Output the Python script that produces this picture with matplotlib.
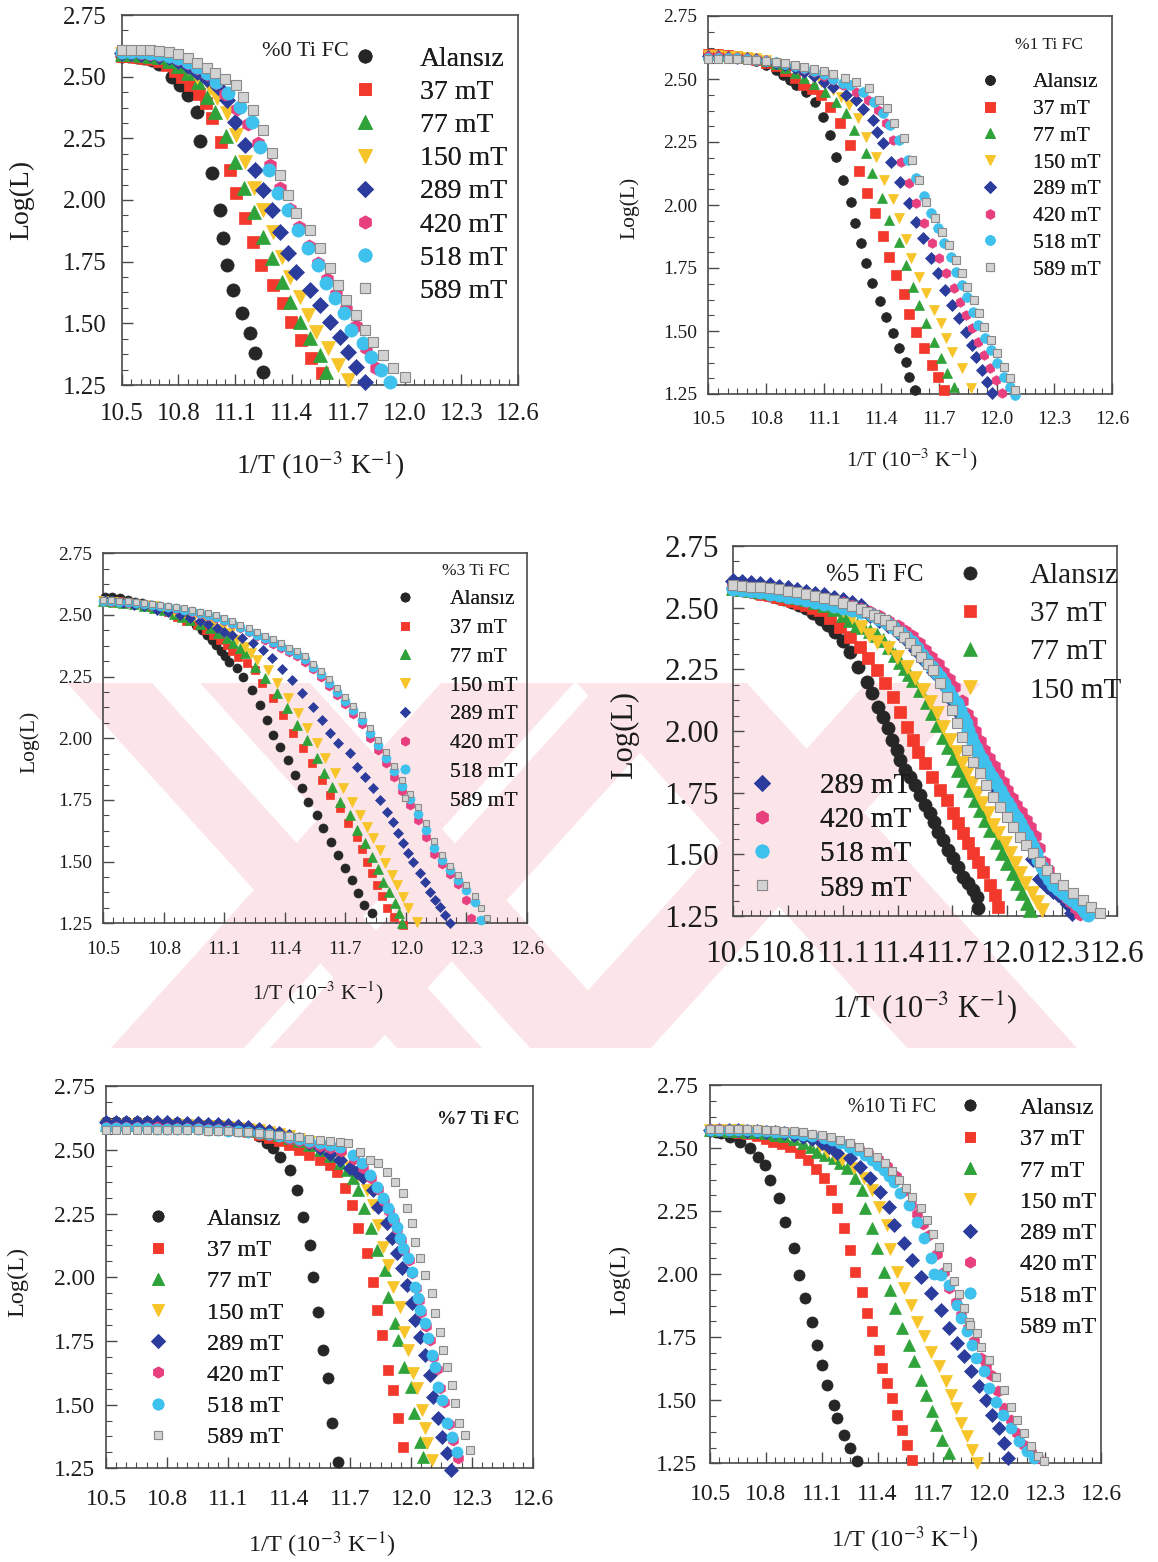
import matplotlib
matplotlib.use("Agg")
import matplotlib.pyplot as plt
from matplotlib.lines import Line2D
from matplotlib.patches import Polygon
from matplotlib.ticker import MultipleLocator, FormatStrFormatter

# ---------------------------------------------------------------------------
# Data: log(L) versus 1/T (10^-3 K^-1) for each Ti content and applied field
# ---------------------------------------------------------------------------
FIELDS = ["Alansız", "37 mT", "77 mT", "150 mT", "289 mT", "420 mT", "518 mT", "589 mT"]
PANEL_TITLES = ["%0 Ti FC", "%1 Ti FC", "%3 Ti FC", "%5 Ti FC", "%7 Ti FC", "%10 Ti FC"]
X_TICKS = [10.5, 10.8, 11.1, 11.4, 11.7, 12.0, 12.3, 12.6]
Y_TICKS = [1.25, 1.50, 1.75, 2.00, 2.25, 2.50, 2.75]

# %0 Ti
ti0_alansiz_x = [10.50, 10.54, 10.58, 10.62, 10.66, 10.70, 10.765, 10.81, 10.853, 10.897, 10.914, 10.976, 11.02, 11.038, 11.056, 11.09, 11.135, 11.18, 11.205, 11.25]
ti0_alansiz_y = [2.585, 2.585, 2.58, 2.575, 2.568, 2.55, 2.50, 2.466, 2.426, 2.358, 2.24, 2.108, 1.96, 1.845, 1.736, 1.635, 1.54, 1.46, 1.378, 1.304]
ti0_37_x = [10.50, 10.54, 10.58, 10.62, 10.66, 10.70, 10.74, 10.78, 10.82, 10.86, 10.91, 10.946, 10.981, 11.024, 11.073, 11.108, 11.152, 11.196, 11.24, 11.302, 11.355, 11.399, 11.452, 11.505, 11.563]
ti0_37_y = [2.582, 2.582, 2.58, 2.577, 2.572, 2.563, 2.548, 2.525, 2.497, 2.465, 2.43, 2.392, 2.331, 2.236, 2.122, 2.027, 1.926, 1.831, 1.736, 1.655, 1.581, 1.507, 1.432, 1.358, 1.297]
ti0_77_x = [10.50, 10.55, 10.60, 10.65, 10.70, 10.75, 10.80, 10.85, 10.906, 10.95, 10.994, 11.052, 11.10, 11.147, 11.20, 11.25, 11.294, 11.347, 11.39, 11.444, 11.496, 11.549, 11.585]
ti0_77_y = [2.59, 2.59, 2.588, 2.585, 2.578, 2.565, 2.545, 2.515, 2.48, 2.419, 2.358, 2.259, 2.155, 2.047, 1.953, 1.851, 1.764, 1.669, 1.588, 1.507, 1.439, 1.372, 1.304]
ti0_150_x = [10.50, 10.55, 10.60, 10.65, 10.70, 10.75, 10.80, 10.85, 10.90, 10.967, 11.003, 11.056, 11.105, 11.153, 11.20, 11.25, 11.302, 11.347, 11.39, 11.444, 11.488, 11.532, 11.593, 11.646, 11.699]
ti0_150_y = [2.592, 2.592, 2.59, 2.588, 2.585, 2.575, 2.56, 2.535, 2.50, 2.453, 2.412, 2.351, 2.264, 2.155, 2.047, 1.959, 1.872, 1.77, 1.689, 1.608, 1.534, 1.466, 1.399, 1.331, 1.27]
ti0_289_x = [10.50, 10.55, 10.60, 10.65, 10.70, 10.75, 10.80, 10.85, 10.90, 10.95, 11.011, 11.056, 11.10, 11.153, 11.205, 11.25, 11.294, 11.338, 11.382, 11.426, 11.496, 11.549, 11.602, 11.655, 11.699, 11.743, 11.787]
ti0_289_y = [2.595, 2.595, 2.593, 2.59, 2.585, 2.578, 2.565, 2.545, 2.52, 2.49, 2.459, 2.405, 2.318, 2.223, 2.122, 2.041, 1.959, 1.872, 1.784, 1.709, 1.635, 1.574, 1.507, 1.446, 1.385, 1.324, 1.264]
ti0_420_x = [10.50, 10.55, 10.60, 10.65, 10.70, 10.75, 10.80, 10.85, 10.90, 10.95, 11.00, 11.05, 11.11, 11.17, 11.223, 11.284, 11.338, 11.39, 11.44, 11.49, 11.54, 11.59, 11.638, 11.69, 11.743, 11.797, 11.85]
ti0_420_y = [2.598, 2.598, 2.596, 2.593, 2.588, 2.582, 2.572, 2.557, 2.537, 2.51, 2.475, 2.43, 2.37, 2.31, 2.23, 2.142, 2.047, 1.965, 1.89, 1.815, 1.745, 1.68, 1.62, 1.56, 1.49, 1.40, 1.32]
ti0_518_x = [10.50, 10.55, 10.60, 10.65, 10.70, 10.75, 10.80, 10.85, 10.90, 10.95, 11.00, 11.064, 11.126, 11.188, 11.232, 11.281, 11.329, 11.382, 11.435, 11.488, 11.541, 11.585, 11.629, 11.676, 11.717, 11.779, 11.823, 11.876, 11.92]
ti0_518_y = [2.60, 2.60, 2.598, 2.595, 2.59, 2.585, 2.575, 2.56, 2.54, 2.515, 2.48, 2.432, 2.378, 2.318, 2.216, 2.122, 2.027, 1.959, 1.878, 1.804, 1.736, 1.662, 1.601, 1.541, 1.473, 1.419, 1.365, 1.311, 1.264]
ti0_589_x = [10.50, 10.55, 10.60, 10.65, 10.70, 10.75, 10.80, 10.85, 10.90, 10.95, 10.994, 11.05, 11.108, 11.144, 11.197, 11.25, 11.294, 11.338, 11.382, 11.426, 11.496, 11.549, 11.602, 11.646, 11.69, 11.743, 11.787, 11.832, 11.884, 11.937, 11.999]
ti0_589_y = [2.61, 2.61, 2.61, 2.608, 2.605, 2.60, 2.59, 2.575, 2.555, 2.535, 2.514, 2.49, 2.466, 2.419, 2.365, 2.284, 2.189, 2.101, 2.02, 1.946, 1.878, 1.804, 1.723, 1.655, 1.595, 1.534, 1.473, 1.426, 1.372, 1.318, 1.284]

# %1 Ti
ti1_alansiz_x = [10.50, 10.55, 10.60, 10.65, 10.70, 10.75, 10.80, 10.85, 10.89, 10.923, 10.958, 11.01, 11.053, 11.096, 11.131, 11.165, 11.203, 11.243, 11.264, 11.295, 11.321, 11.352, 11.394, 11.425, 11.463, 11.494, 11.528, 11.546, 11.577]
ti1_alansiz_y = [2.60, 2.598, 2.595, 2.59, 2.58, 2.57, 2.555, 2.535, 2.515, 2.496, 2.476, 2.45, 2.41, 2.35, 2.278, 2.192, 2.099, 2.013, 1.927, 1.848, 1.769, 1.692, 1.62, 1.557, 1.491, 1.431, 1.378, 1.319, 1.266]
ti1_37_x = [10.50, 10.55, 10.60, 10.65, 10.70, 10.75, 10.80, 10.85, 10.90, 10.95, 10.993, 11.04, 11.088, 11.131, 11.183, 11.235, 11.283, 11.324, 11.369, 11.407, 11.442, 11.476, 11.52, 11.546, 11.58, 11.623, 11.663, 11.693, 11.727]
ti1_37_y = [2.60, 2.598, 2.595, 2.59, 2.583, 2.575, 2.565, 2.55, 2.53, 2.505, 2.476, 2.46, 2.437, 2.39, 2.324, 2.238, 2.136, 2.049, 1.967, 1.877, 1.795, 1.722, 1.646, 1.567, 1.497, 1.431, 1.365, 1.319, 1.266]
ti1_77_x = [10.50, 10.55, 10.60, 10.65, 10.70, 10.75, 10.80, 10.85, 10.90, 10.95, 11.00, 11.05, 11.105, 11.165, 11.217, 11.26, 11.321, 11.352, 11.404, 11.442, 11.49, 11.528, 11.566, 11.597, 11.635, 11.675, 11.71, 11.744, 11.779]
ti1_77_y = [2.595, 2.595, 2.593, 2.59, 2.585, 2.578, 2.57, 2.56, 2.545, 2.525, 2.505, 2.48, 2.45, 2.41, 2.364, 2.298, 2.205, 2.126, 2.026, 1.94, 1.854, 1.762, 1.676, 1.603, 1.53, 1.458, 1.392, 1.332, 1.279]
ti1_150_x = [10.50, 10.55, 10.60, 10.65, 10.70, 10.75, 10.80, 10.85, 10.90, 10.95, 11.00, 11.045, 11.088, 11.148, 11.19, 11.231, 11.278, 11.321, 11.373, 11.416, 11.463, 11.494, 11.528, 11.554, 11.597, 11.635, 11.675, 11.71, 11.739, 11.77, 11.822, 11.865]
ti1_150_y = [2.595, 2.595, 2.593, 2.59, 2.587, 2.582, 2.575, 2.565, 2.553, 2.54, 2.525, 2.508, 2.489, 2.456, 2.43, 2.397, 2.344, 2.271, 2.192, 2.099, 2.022, 1.947, 1.864, 1.788, 1.716, 1.649, 1.583, 1.53, 1.471, 1.418, 1.352, 1.272]
ti1_289_x = [10.50, 10.55, 10.60, 10.65, 10.70, 10.75, 10.80, 10.85, 10.90, 10.95, 11.00, 11.05, 11.10, 11.148, 11.217, 11.269, 11.307, 11.356, 11.376, 11.407, 11.451, 11.497, 11.542, 11.58, 11.615, 11.658, 11.693, 11.732, 11.77, 11.805, 11.839, 11.871, 11.895, 11.922, 11.952, 11.978]
ti1_289_y = [2.59, 2.59, 2.588, 2.585, 2.582, 2.578, 2.572, 2.565, 2.555, 2.542, 2.528, 2.51, 2.49, 2.47, 2.437, 2.417, 2.38, 2.337, 2.288, 2.245, 2.172, 2.093, 2.007, 1.934, 1.868, 1.788, 1.729, 1.663, 1.603, 1.55, 1.497, 1.444, 1.398, 1.345, 1.299, 1.253]
ti1_420_x = [10.50, 10.55, 10.60, 10.65, 10.70, 10.75, 10.80, 10.85, 10.90, 10.95, 11.00, 11.05, 11.10, 11.15, 11.20, 11.269, 11.33, 11.381, 11.425, 11.459, 11.502, 11.542, 11.58, 11.623, 11.663, 11.698, 11.736, 11.779, 11.808, 11.839, 11.874, 11.905, 11.934, 11.964, 11.995, 12.03]
ti1_420_y = [2.59, 2.59, 2.588, 2.586, 2.583, 2.58, 2.575, 2.568, 2.56, 2.55, 2.54, 2.527, 2.512, 2.495, 2.476, 2.45, 2.417, 2.377, 2.324, 2.258, 2.172, 2.086, 2.007, 1.927, 1.848, 1.788, 1.729, 1.669, 1.616, 1.563, 1.511, 1.458, 1.405, 1.352, 1.306, 1.253]
ti1_518_x = [10.50, 10.55, 10.60, 10.65, 10.70, 10.75, 10.80, 10.85, 10.90, 10.95, 11.00, 11.05, 11.10, 11.15, 11.20, 11.235, 11.304, 11.364, 11.407, 11.447, 11.494, 11.537, 11.58, 11.623, 11.658, 11.693, 11.727, 11.762, 11.788, 11.819, 11.848, 11.877, 11.905, 11.94, 11.969, 12.004, 12.038, 12.068, 12.095]
ti1_518_y = [2.585, 2.585, 2.584, 2.582, 2.58, 2.577, 2.573, 2.567, 2.56, 2.552, 2.543, 2.532, 2.518, 2.50, 2.485, 2.476, 2.45, 2.41, 2.364, 2.317, 2.258, 2.179, 2.106, 2.036, 1.967, 1.907, 1.848, 1.795, 1.735, 1.682, 1.636, 1.577, 1.524, 1.471, 1.425, 1.372, 1.319, 1.279, 1.246]
ti1_589_x = [10.50, 10.55, 10.60, 10.65, 10.70, 10.75, 10.80, 10.85, 10.90, 10.95, 11.00, 11.05, 11.10, 11.15, 11.21, 11.269, 11.338, 11.39, 11.428, 11.468, 11.52, 11.559, 11.597, 11.635, 11.68, 11.718, 11.753, 11.788, 11.819, 11.848, 11.883, 11.909, 11.934, 11.969, 12.004, 12.038, 12.068, 12.095]
ti1_589_y = [2.58, 2.58, 2.579, 2.578, 2.577, 2.575, 2.572, 2.568, 2.562, 2.556, 2.548, 2.54, 2.53, 2.518, 2.505, 2.489, 2.463, 2.417, 2.384, 2.324, 2.265, 2.179, 2.099, 2.013, 1.947, 1.894, 1.841, 1.782, 1.729, 1.676, 1.623, 1.57, 1.517, 1.464, 1.411, 1.358, 1.312, 1.266]

# %3 Ti
ti3_alansiz_x = [10.508, 10.545, 10.583, 10.62, 10.657, 10.694, 10.731, 10.765, 10.798, 10.83, 10.864, 10.897, 10.93, 10.96, 10.988, 11.012, 11.037, 11.06, 11.082, 11.105, 11.125, 11.161, 11.194, 11.236, 11.277, 11.31, 11.343, 11.376, 11.417, 11.45, 11.483, 11.517, 11.558, 11.591, 11.627, 11.665, 11.698, 11.731, 11.764, 11.793, 11.831]
ti3_alansiz_y = [2.574, 2.571, 2.568, 2.561, 2.554, 2.548, 2.541, 2.534, 2.527, 2.518, 2.507, 2.494, 2.48, 2.46, 2.439, 2.42, 2.399, 2.377, 2.354, 2.333, 2.311, 2.284, 2.25, 2.196, 2.135, 2.074, 2.014, 1.966, 1.912, 1.851, 1.797, 1.743, 1.689, 1.635, 1.581, 1.527, 1.473, 1.426, 1.372, 1.324, 1.291]
ti3_37_x = [10.50, 10.54, 10.58, 10.62, 10.66, 10.70, 10.74, 10.78, 10.82, 10.864, 10.91, 10.963, 11.01, 11.045, 11.08, 11.112, 11.14, 11.169, 11.21, 11.252, 11.285, 11.343, 11.392, 11.442, 11.492, 11.533, 11.583, 11.624, 11.674, 11.715, 11.756, 11.78, 11.806, 11.83, 11.856, 11.88, 11.905, 11.94, 11.987]
ti3_37_y = [2.56, 2.558, 2.555, 2.552, 2.547, 2.541, 2.534, 2.524, 2.51, 2.493, 2.476, 2.459, 2.44, 2.419, 2.40, 2.378, 2.355, 2.331, 2.305, 2.277, 2.223, 2.162, 2.095, 2.02, 1.96, 1.899, 1.831, 1.77, 1.716, 1.655, 1.601, 1.55, 1.50, 1.455, 1.405, 1.36, 1.311, 1.275, 1.243]
ti3_77_x = [10.50, 10.55, 10.60, 10.65, 10.70, 10.75, 10.80, 10.85, 10.89, 10.93, 10.98, 11.029, 11.07, 11.112, 11.145, 11.178, 11.203, 11.252, 11.302, 11.36, 11.409, 11.459, 11.508, 11.558, 11.595, 11.632, 11.674, 11.723, 11.756, 11.797, 11.831, 11.86, 11.888, 11.915, 11.946, 11.965, 11.98]
ti3_77_y = [2.555, 2.552, 2.548, 2.543, 2.537, 2.53, 2.52, 2.505, 2.493, 2.48, 2.465, 2.446, 2.428, 2.405, 2.385, 2.365, 2.345, 2.29, 2.243, 2.183, 2.122, 2.054, 1.993, 1.919, 1.86, 1.804, 1.743, 1.689, 1.628, 1.574, 1.52, 1.47, 1.419, 1.375, 1.331, 1.29, 1.25]
ti3_150_x = [10.50, 10.55, 10.60, 10.65, 10.70, 10.75, 10.80, 10.85, 10.90, 10.95, 11.00, 11.05, 11.09, 11.128, 11.165, 11.20, 11.23, 11.26, 11.318, 11.36, 11.417, 11.467, 11.508, 11.558, 11.599, 11.649, 11.69, 11.731, 11.773, 11.806, 11.839, 11.872, 11.897, 11.93, 11.955, 11.987, 12.012, 12.054]
ti3_150_y = [2.555, 2.553, 2.55, 2.546, 2.541, 2.535, 2.527, 2.518, 2.507, 2.495, 2.48, 2.463, 2.445, 2.426, 2.40, 2.37, 2.345, 2.318, 2.277, 2.223, 2.162, 2.101, 2.041, 1.98, 1.919, 1.858, 1.797, 1.743, 1.689, 1.642, 1.595, 1.547, 1.493, 1.446, 1.405, 1.358, 1.311, 1.257]
ti3_289_x = [10.508, 10.55, 10.60, 10.65, 10.70, 10.765, 10.82, 10.88, 10.93, 10.98, 11.02, 11.062, 11.10, 11.14, 11.186, 11.244, 11.293, 11.335, 11.384, 11.434, 11.484, 11.541, 11.583, 11.624, 11.665, 11.723, 11.756, 11.797, 11.839, 11.872, 11.905, 11.938, 11.963, 11.987, 12.012, 12.037, 12.07, 12.096, 12.121, 12.145, 12.169, 12.194, 12.219]
ti3_289_y = [2.56, 2.556, 2.549, 2.542, 2.535, 2.52, 2.51, 2.498, 2.488, 2.475, 2.462, 2.446, 2.432, 2.42, 2.405, 2.385, 2.358, 2.324, 2.28, 2.236, 2.183, 2.128, 2.074, 2.02, 1.98, 1.939, 1.885, 1.844, 1.797, 1.75, 1.703, 1.662, 1.615, 1.574, 1.534, 1.50, 1.453, 1.419, 1.378, 1.345, 1.318, 1.284, 1.25]
ti3_420_x = [10.50, 10.54, 10.58, 10.62, 10.66, 10.70, 10.74, 10.78, 10.82, 10.86, 10.90, 10.94, 10.98, 11.02, 11.06, 11.10, 11.14, 11.18, 11.22, 11.26, 11.30, 11.34, 11.38, 11.42, 11.46, 11.50, 11.54, 11.58, 11.62, 11.66, 11.70, 11.74, 11.78, 11.82, 11.86, 11.90, 11.94, 11.98, 12.02, 12.06, 12.10, 12.14, 12.18, 12.22, 12.26, 12.30, 12.32]
ti3_420_y = [2.556, 2.554, 2.552, 2.55, 2.547, 2.544, 2.54, 2.536, 2.531, 2.526, 2.52, 2.513, 2.505, 2.497, 2.488, 2.477, 2.464, 2.448, 2.432, 2.416, 2.40, 2.384, 2.366, 2.349, 2.333, 2.31, 2.279, 2.247, 2.212, 2.175, 2.138, 2.1, 2.057, 2.003, 1.953, 1.9, 1.843, 1.785, 1.728, 1.668, 1.6, 1.532, 1.49, 1.45, 1.41, 1.345, 1.27]
ti3_518_x = [10.50, 10.54, 10.58, 10.62, 10.66, 10.70, 10.74, 10.78, 10.82, 10.86, 10.90, 10.94, 10.98, 11.02, 11.06, 11.10, 11.14, 11.18, 11.22, 11.26, 11.30, 11.34, 11.38, 11.42, 11.46, 11.50, 11.54, 11.58, 11.62, 11.66, 11.70, 11.74, 11.78, 11.82, 11.86, 11.90, 11.94, 11.98, 12.02, 12.06, 12.10, 12.14, 12.18, 12.22, 12.26, 12.30, 12.34, 12.37]
ti3_518_y = [2.558, 2.556, 2.554, 2.552, 2.549, 2.546, 2.542, 2.538, 2.533, 2.528, 2.522, 2.516, 2.508, 2.50, 2.492, 2.481, 2.468, 2.452, 2.436, 2.42, 2.405, 2.39, 2.373, 2.356, 2.342, 2.322, 2.29, 2.26, 2.225, 2.188, 2.152, 2.116, 2.075, 2.02, 1.972, 1.922, 1.866, 1.808, 1.752, 1.695, 1.63, 1.555, 1.505, 1.465, 1.427, 1.385, 1.335, 1.262]
ti3_589_x = [10.50, 10.54, 10.58, 10.62, 10.66, 10.70, 10.74, 10.78, 10.82, 10.86, 10.90, 10.94, 10.98, 11.02, 11.06, 11.10, 11.14, 11.18, 11.22, 11.26, 11.30, 11.34, 11.38, 11.42, 11.46, 11.50, 11.54, 11.58, 11.62, 11.66, 11.70, 11.74, 11.78, 11.82, 11.86, 11.90, 11.94, 11.98, 12.02, 12.06, 12.10, 12.14, 12.18, 12.22, 12.26, 12.30, 12.34, 12.37, 12.40]
ti3_589_y = [2.562, 2.56, 2.558, 2.556, 2.553, 2.55, 2.546, 2.542, 2.537, 2.532, 2.527, 2.521, 2.514, 2.506, 2.498, 2.488, 2.476, 2.461, 2.446, 2.431, 2.416, 2.401, 2.385, 2.368, 2.352, 2.333, 2.303, 2.273, 2.24, 2.203, 2.168, 2.132, 2.093, 2.04, 1.992, 1.943, 1.888, 1.832, 1.776, 1.72, 1.656, 1.583, 1.528, 1.484, 1.445, 1.405, 1.36, 1.31, 1.27]

# %5 Ti
ti5_alansiz_x = [10.50, 10.54, 10.58, 10.62, 10.66, 10.70, 10.74, 10.78, 10.82, 10.86, 10.90, 10.94, 10.98, 11.02, 11.06, 11.10, 11.14, 11.185, 11.231, 11.258, 11.295, 11.322, 11.349, 11.368, 11.395, 11.413, 11.44, 11.468, 11.495, 11.522, 11.55, 11.577, 11.60, 11.623, 11.65, 11.677, 11.705, 11.732, 11.759, 11.787, 11.814, 11.832, 11.841]
ti5_alansiz_y = [2.58, 2.575, 2.57, 2.565, 2.56, 2.553, 2.545, 2.536, 2.525, 2.512, 2.497, 2.478, 2.455, 2.43, 2.40, 2.365, 2.322, 2.261, 2.20, 2.153, 2.099, 2.058, 2.011, 1.964, 1.923, 1.883, 1.842, 1.815, 1.781, 1.741, 1.70, 1.667, 1.63, 1.592, 1.558, 1.518, 1.484, 1.45, 1.41, 1.383, 1.356, 1.329, 1.281]
ti5_37_x = [10.50, 10.54, 10.58, 10.62, 10.66, 10.70, 10.74, 10.78, 10.82, 10.86, 10.90, 10.94, 10.976, 11.03, 11.085, 11.14, 11.194, 11.24, 11.286, 11.331, 11.377, 11.413, 11.45, 11.486, 11.513, 11.55, 11.586, 11.632, 11.668, 11.705, 11.732, 11.759, 11.787, 11.814, 11.841, 11.868, 11.905, 11.932, 11.95]
ti5_37_y = [2.575, 2.571, 2.567, 2.562, 2.556, 2.55, 2.544, 2.537, 2.529, 2.52, 2.51, 2.50, 2.491, 2.457, 2.423, 2.382, 2.342, 2.295, 2.247, 2.193, 2.139, 2.078, 2.017, 1.964, 1.916, 1.869, 1.815, 1.761, 1.72, 1.666, 1.626, 1.585, 1.545, 1.504, 1.47, 1.43, 1.376, 1.335, 1.288]
ti5_77_x = [10.50, 10.55, 10.60, 10.65, 10.70, 10.75, 10.80, 10.85, 10.90, 10.95, 11.00, 11.05, 11.10, 11.14, 11.176, 11.213, 11.249, 11.285, 11.322, 11.355, 11.386, 11.413, 11.44, 11.465, 11.486, 11.522, 11.559, 11.586, 11.614, 11.65, 11.677, 11.705, 11.732, 11.759, 11.796, 11.823, 11.85, 11.878, 11.905, 11.942, 11.969, 11.996, 12.033, 12.051, 12.078, 12.106, 12.124]
ti5_77_y = [2.58, 2.577, 2.573, 2.569, 2.565, 2.56, 2.553, 2.545, 2.535, 2.523, 2.51, 2.493, 2.47, 2.45, 2.43, 2.42, 2.405, 2.39, 2.369, 2.34, 2.308, 2.28, 2.254, 2.23, 2.207, 2.166, 2.119, 2.072, 2.024, 1.977, 1.936, 1.889, 1.842, 1.801, 1.761, 1.72, 1.68, 1.639, 1.599, 1.551, 1.504, 1.464, 1.423, 1.383, 1.342, 1.302, 1.275]
ti5_150_x = [10.50, 10.55, 10.60, 10.65, 10.70, 10.75, 10.80, 10.85, 10.90, 10.95, 11.00, 11.05, 11.10, 11.15, 11.20, 11.245, 11.286, 11.349, 11.395, 11.45, 11.495, 11.541, 11.577, 11.614, 11.65, 11.686, 11.723, 11.75, 11.778, 11.805, 11.832, 11.86, 11.896, 11.923, 11.951, 11.987, 12.015, 12.042, 12.069, 12.097, 12.133, 12.16, 12.188]
ti5_150_y = [2.585, 2.582, 2.579, 2.575, 2.571, 2.566, 2.56, 2.552, 2.543, 2.532, 2.52, 2.506, 2.49, 2.462, 2.42, 2.39, 2.362, 2.335, 2.301, 2.261, 2.214, 2.166, 2.119, 2.072, 2.017, 1.964, 1.916, 1.869, 1.829, 1.788, 1.747, 1.707, 1.666, 1.619, 1.585, 1.545, 1.504, 1.464, 1.423, 1.383, 1.342, 1.308, 1.275]
ti5_289_x = [10.50, 10.55, 10.60, 10.65, 10.70, 10.75, 10.80, 10.85, 10.90, 10.95, 11.00, 11.05, 11.10, 11.15, 11.20, 11.25, 11.30, 11.35, 11.40, 11.45, 11.50, 11.55, 11.60, 11.65, 11.70, 11.75, 11.80, 11.85, 11.90, 11.95, 12.00, 12.05, 12.10, 12.14, 12.179, 12.215, 12.251, 12.28, 12.306, 12.33, 12.352]
ti5_289_y = [2.61, 2.605, 2.60, 2.595, 2.59, 2.584, 2.578, 2.572, 2.565, 2.557, 2.55, 2.54, 2.53, 2.518, 2.505, 2.47, 2.45, 2.43, 2.40, 2.37, 2.33, 2.285, 2.24, 2.19, 2.125, 2.06, 1.975, 1.89, 1.825, 1.76, 1.695, 1.63, 1.56, 1.48, 1.40, 1.37, 1.35, 1.34, 1.325, 1.30, 1.261]
ti5_420_x = [10.50, 10.55, 10.60, 10.65, 10.70, 10.75, 10.80, 10.85, 10.90, 10.95, 11.00, 11.05, 11.10, 11.15, 11.20, 11.25, 11.30, 11.35, 11.40, 11.44, 11.48, 11.515, 11.55, 11.585, 11.62, 11.65, 11.68, 11.71, 11.75, 11.78, 11.80, 11.825, 11.85, 11.875, 11.90, 11.925, 11.95, 11.975, 12.00, 12.025, 12.05, 12.075, 12.10, 12.125, 12.15, 12.175, 12.20, 12.225, 12.25, 12.275, 12.30, 12.325, 12.35, 12.375, 12.40]
ti5_420_y = [2.585, 2.583, 2.58, 2.576, 2.572, 2.567, 2.562, 2.556, 2.55, 2.543, 2.536, 2.527, 2.518, 2.507, 2.495, 2.481, 2.465, 2.446, 2.425, 2.405, 2.385, 2.355, 2.33, 2.30, 2.27, 2.24, 2.21, 2.18, 2.12, 2.07, 2.04, 2.00, 1.96, 1.925, 1.89, 1.857, 1.825, 1.792, 1.76, 1.73, 1.70, 1.67, 1.64, 1.61, 1.575, 1.525, 1.47, 1.435, 1.40, 1.37, 1.345, 1.325, 1.305, 1.282, 1.26]
ti5_518_x = [10.50, 10.55, 10.60, 10.65, 10.70, 10.75, 10.80, 10.85, 10.90, 10.95, 11.00, 11.05, 11.10, 11.15, 11.20, 11.258, 11.30, 11.34, 11.375, 11.413, 11.445, 11.477, 11.505, 11.532, 11.56, 11.586, 11.61, 11.632, 11.655, 11.677, 11.70, 11.723, 11.74, 11.759, 11.773, 11.787, 11.80, 11.814, 11.828, 11.841, 11.86, 11.878, 11.896, 11.914, 11.937, 11.96, 11.978, 11.996, 12.015, 12.033, 12.051, 12.069, 12.088, 12.106, 12.124, 12.142, 12.155, 12.169, 12.188, 12.206, 12.228, 12.251, 12.278, 12.306, 12.33, 12.352, 12.38, 12.406, 12.425, 12.443]
ti5_518_y = [2.575, 2.571, 2.567, 2.562, 2.557, 2.551, 2.545, 2.538, 2.53, 2.523, 2.515, 2.506, 2.497, 2.49, 2.482, 2.47, 2.455, 2.437, 2.42, 2.403, 2.383, 2.362, 2.335, 2.308, 2.285, 2.261, 2.24, 2.22, 2.193, 2.166, 2.139, 2.112, 2.085, 2.058, 2.031, 2.004, 1.977, 1.95, 1.93, 1.91, 1.886, 1.862, 1.838, 1.815, 1.788, 1.761, 1.737, 1.714, 1.69, 1.666, 1.646, 1.626, 1.602, 1.579, 1.555, 1.531, 1.504, 1.477, 1.45, 1.423, 1.40, 1.376, 1.359, 1.342, 1.328, 1.315, 1.298, 1.281, 1.268, 1.254]
ti5_589_x = [10.50, 10.55, 10.60, 10.65, 10.70, 10.75, 10.80, 10.85, 10.90, 10.95, 11.00, 11.05, 11.10, 11.15, 11.20, 11.235, 11.27, 11.30, 11.331, 11.365, 11.40, 11.435, 11.468, 11.50, 11.53, 11.565, 11.595, 11.63, 11.668, 11.695, 11.723, 11.75, 11.778, 11.815, 11.85, 11.885, 11.923, 11.96, 11.996, 12.03, 12.069, 12.105, 12.142, 12.18, 12.215, 12.26, 12.306, 12.36, 12.415, 12.46, 12.507]
ti5_589_y = [2.59, 2.588, 2.585, 2.582, 2.578, 2.574, 2.568, 2.562, 2.555, 2.548, 2.54, 2.53, 2.52, 2.508, 2.495, 2.483, 2.47, 2.46, 2.45, 2.428, 2.404, 2.38, 2.356, 2.33, 2.30, 2.272, 2.247, 2.195, 2.139, 2.085, 2.031, 1.977, 1.923, 1.875, 1.829, 1.782, 1.734, 1.693, 1.653, 1.612, 1.572, 1.538, 1.504, 1.47, 1.437, 1.405, 1.376, 1.345, 1.315, 1.288, 1.261]

# %7 Ti
ti7_alansiz_x = [10.50, 10.55, 10.60, 10.65, 10.70, 10.75, 10.80, 10.85, 10.90, 10.95, 11.00, 11.05, 11.10, 11.15, 11.20, 11.25, 11.29, 11.323, 11.356, 11.405, 11.438, 11.471, 11.504, 11.519, 11.543, 11.568, 11.593, 11.61, 11.643]
ti7_alansiz_y = [2.61, 2.61, 2.61, 2.609, 2.608, 2.607, 2.606, 2.605, 2.603, 2.601, 2.599, 2.596, 2.592, 2.585, 2.573, 2.553, 2.526, 2.506, 2.474, 2.421, 2.343, 2.238, 2.127, 2.002, 1.865, 1.714, 1.603, 1.426, 1.275]
ti7_37_x = [10.50, 10.55, 10.60, 10.65, 10.70, 10.75, 10.80, 10.85, 10.90, 10.95, 11.00, 11.05, 11.10, 11.15, 11.20, 11.25, 11.30, 11.35, 11.40, 11.45, 11.50, 11.553, 11.602, 11.635, 11.676, 11.709, 11.741, 11.782, 11.815, 11.832, 11.856, 11.889, 11.913, 11.938, 11.962]
ti7_37_y = [2.60, 2.60, 2.60, 2.60, 2.599, 2.598, 2.597, 2.596, 2.595, 2.593, 2.591, 2.588, 2.584, 2.578, 2.57, 2.56, 2.548, 2.535, 2.52, 2.50, 2.48, 2.46, 2.441, 2.415, 2.349, 2.284, 2.192, 2.094, 1.983, 1.871, 1.773, 1.636, 1.557, 1.446, 1.334]
ti7_77_x = [10.50, 10.55, 10.60, 10.65, 10.70, 10.75, 10.80, 10.85, 10.90, 10.95, 11.00, 11.05, 11.10, 11.15, 11.20, 11.25, 11.30, 11.35, 11.40, 11.45, 11.50, 11.55, 11.60, 11.651, 11.685, 11.716, 11.741, 11.769, 11.802, 11.834, 11.872, 11.889, 11.922, 11.938, 11.966, 11.999, 12.015, 12.045, 12.061]
ti7_77_y = [2.60, 2.60, 2.60, 2.60, 2.60, 2.599, 2.599, 2.598, 2.597, 2.596, 2.594, 2.592, 2.589, 2.585, 2.58, 2.574, 2.567, 2.558, 2.548, 2.535, 2.52, 2.50, 2.475, 2.448, 2.42, 2.389, 2.343, 2.271, 2.192, 2.107, 2.028, 1.924, 1.819, 1.753, 1.649, 1.57, 1.466, 1.354, 1.295]
ti7_150_x = [10.50, 10.55, 10.60, 10.65, 10.70, 10.75, 10.80, 10.85, 10.90, 10.95, 11.00, 11.05, 11.10, 11.15, 11.20, 11.25, 11.30, 11.35, 11.40, 11.45, 11.50, 11.55, 11.60, 11.65, 11.70, 11.741, 11.782, 11.812, 11.839, 11.864, 11.889, 11.91, 11.946, 11.966, 11.987, 12.009, 12.028, 12.053, 12.069, 12.077, 12.102]
ti7_150_y = [2.60, 2.60, 2.60, 2.60, 2.60, 2.60, 2.599, 2.598, 2.597, 2.596, 2.595, 2.593, 2.59, 2.587, 2.583, 2.578, 2.572, 2.564, 2.555, 2.545, 2.532, 2.515, 2.493, 2.466, 2.434, 2.402, 2.343, 2.284, 2.205, 2.12, 2.048, 1.963, 1.884, 1.786, 1.714, 1.623, 1.564, 1.479, 1.407, 1.348, 1.283]
ti7_289_x = [10.50, 10.55, 10.60, 10.65, 10.70, 10.75, 10.80, 10.85, 10.90, 10.95, 11.00, 11.05, 11.10, 11.15, 11.20, 11.25, 11.30, 11.35, 11.40, 11.45, 11.50, 11.55, 11.60, 11.65, 11.70, 11.735, 11.766, 11.815, 11.839, 11.881, 11.905, 11.929, 11.954, 11.979, 12.003, 12.02, 12.044, 12.068, 12.094, 12.11, 12.134, 12.151, 12.176, 12.195]
ti7_289_y = [2.61, 2.61, 2.61, 2.61, 2.609, 2.609, 2.608, 2.607, 2.606, 2.605, 2.603, 2.601, 2.598, 2.594, 2.589, 2.583, 2.576, 2.567, 2.556, 2.543, 2.527, 2.508, 2.486, 2.46, 2.43, 2.413, 2.395, 2.343, 2.277, 2.212, 2.153, 2.094, 2.035, 1.97, 1.898, 1.832, 1.767, 1.694, 1.616, 1.531, 1.446, 1.374, 1.309, 1.243]
ti7_420_x = [10.50, 10.55, 10.60, 10.65, 10.70, 10.75, 10.80, 10.85, 10.90, 10.95, 11.00, 11.05, 11.10, 11.15, 11.20, 11.25, 11.30, 11.35, 11.40, 11.45, 11.50, 11.55, 11.60, 11.655, 11.72, 11.762, 11.803, 11.836, 11.868, 11.893, 11.917, 11.933, 11.95, 11.966, 11.991, 12.007, 12.025, 12.04, 12.05, 12.075, 12.092, 12.11, 12.126, 12.143, 12.16, 12.185, 12.208, 12.23]
ti7_420_y = [2.59, 2.59, 2.59, 2.59, 2.589, 2.589, 2.588, 2.587, 2.586, 2.585, 2.583, 2.581, 2.578, 2.575, 2.571, 2.566, 2.56, 2.553, 2.545, 2.536, 2.527, 2.517, 2.506, 2.495, 2.465, 2.43, 2.39, 2.345, 2.30, 2.262, 2.222, 2.19, 2.145, 2.107, 2.066, 2.015, 1.958, 1.91, 1.865, 1.81, 1.752, 1.688, 1.64, 1.565, 1.51, 1.425, 1.36, 1.289]
ti7_518_x = [10.50, 10.55, 10.60, 10.65, 10.70, 10.75, 10.80, 10.85, 10.90, 10.95, 11.00, 11.05, 11.10, 11.15, 11.20, 11.25, 11.30, 11.35, 11.40, 11.45, 11.50, 11.55, 11.60, 11.651, 11.716, 11.758, 11.799, 11.832, 11.864, 11.889, 11.913, 11.929, 11.946, 11.962, 11.987, 12.003, 12.02, 12.036, 12.044, 12.069, 12.085, 12.102, 12.118, 12.134, 12.151, 12.176, 12.20, 12.225]
ti7_518_y = [2.585, 2.585, 2.585, 2.585, 2.585, 2.584, 2.584, 2.583, 2.582, 2.581, 2.58, 2.578, 2.576, 2.573, 2.57, 2.566, 2.561, 2.556, 2.55, 2.543, 2.535, 2.526, 2.52, 2.513, 2.48, 2.448, 2.402, 2.356, 2.31, 2.271, 2.232, 2.199, 2.153, 2.114, 2.074, 2.022, 1.963, 1.917, 1.871, 1.819, 1.76, 1.694, 1.649, 1.57, 1.518, 1.426, 1.374, 1.315]
ti7_589_x = [10.50, 10.55, 10.60, 10.65, 10.70, 10.75, 10.80, 10.85, 10.90, 10.95, 11.00, 11.05, 11.10, 11.15, 11.20, 11.25, 11.30, 11.35, 11.40, 11.45, 11.50, 11.55, 11.60, 11.65, 11.692, 11.749, 11.799, 11.839, 11.881, 11.92, 11.962, 11.979, 12.003, 12.02, 12.044, 12.069, 12.102, 12.118, 12.143, 12.156, 12.176, 12.20, 12.216, 12.238, 12.264, 12.29]
ti7_589_y = [2.58, 2.58, 2.58, 2.58, 2.58, 2.58, 2.579, 2.579, 2.578, 2.577, 2.576, 2.575, 2.573, 2.571, 2.569, 2.566, 2.563, 2.559, 2.555, 2.55, 2.545, 2.54, 2.535, 2.53, 2.526, 2.493, 2.461, 2.448, 2.415, 2.375, 2.33, 2.271, 2.212, 2.14, 2.074, 2.009, 1.937, 1.858, 1.786, 1.714, 1.649, 1.577, 1.505, 1.426, 1.38, 1.321]

# %10 Ti
ti10_alansiz_x = [10.50, 10.53, 10.56, 10.608, 10.662, 10.715, 10.76, 10.796, 10.823, 10.868, 10.904, 10.949, 10.976, 11.012, 11.048, 11.075, 11.101, 11.128, 11.164, 11.182, 11.218, 11.254, 11.29]
ti10_alansiz_y = [2.568, 2.565, 2.558, 2.545, 2.525, 2.499, 2.466, 2.433, 2.374, 2.301, 2.208, 2.103, 1.997, 1.905, 1.812, 1.72, 1.641, 1.561, 1.482, 1.429, 1.363, 1.31, 1.258]
ti10_37_x = [10.50, 10.55, 10.60, 10.65, 10.70, 10.75, 10.80, 10.841, 10.886, 10.931, 10.985, 11.029, 11.071, 11.11, 11.15, 11.182, 11.218, 11.254, 11.281, 11.317, 11.344, 11.371, 11.406, 11.425, 11.452, 11.478, 11.505, 11.532, 11.559, 11.586]
ti10_37_y = [2.568, 2.567, 2.565, 2.561, 2.555, 2.547, 2.537, 2.525, 2.516, 2.506, 2.479, 2.453, 2.417, 2.38, 2.334, 2.261, 2.182, 2.096, 2.01, 1.931, 1.845, 1.773, 1.70, 1.628, 1.568, 1.509, 1.443, 1.383, 1.324, 1.264]
ti10_77_x = [10.50, 10.55, 10.60, 10.65, 10.70, 10.75, 10.80, 10.85, 10.90, 10.95, 11.00, 11.04, 11.075, 11.12, 11.164, 11.20, 11.236, 11.281, 11.317, 11.335, 11.371, 11.398, 11.433, 11.469, 11.496, 11.532, 11.568, 11.595, 11.631, 11.658, 11.694, 11.712, 11.748, 11.783]
ti10_77_y = [2.57, 2.57, 2.569, 2.567, 2.565, 2.562, 2.558, 2.553, 2.546, 2.535, 2.52, 2.503, 2.486, 2.474, 2.46, 2.442, 2.42, 2.38, 2.334, 2.261, 2.182, 2.103, 2.01, 1.938, 1.865, 1.786, 1.72, 1.654, 1.581, 1.522, 1.456, 1.403, 1.343, 1.291]
ti10_150_x = [10.50, 10.55, 10.60, 10.65, 10.70, 10.75, 10.80, 10.85, 10.90, 10.95, 11.00, 11.05, 11.09, 11.128, 11.17, 11.209, 11.272, 11.326, 11.371, 11.406, 11.452, 11.469, 11.505, 11.541, 11.577, 11.613, 11.649, 11.685, 11.729, 11.765, 11.792, 11.819, 11.846, 11.882, 11.909, 11.936]
ti10_150_y = [2.572, 2.572, 2.571, 2.57, 2.568, 2.566, 2.563, 2.559, 2.554, 2.547, 2.538, 2.526, 2.51, 2.486, 2.47, 2.453, 2.42, 2.38, 2.334, 2.268, 2.195, 2.10, 2.01, 1.944, 1.878, 1.812, 1.753, 1.693, 1.634, 1.575, 1.522, 1.469, 1.41, 1.357, 1.304, 1.251]
ti10_289_x = [10.50, 10.55, 10.60, 10.65, 10.70, 10.75, 10.80, 10.85, 10.90, 10.95, 11.00, 11.05, 11.10, 11.14, 11.182, 11.254, 11.308, 11.362, 11.415, 11.46, 11.487, 11.541, 11.586, 11.631, 11.685, 11.739, 11.783, 11.828, 11.864, 11.90, 11.945, 11.981, 12.017, 12.053, 12.079, 12.098]
ti10_289_y = [2.572, 2.572, 2.571, 2.57, 2.569, 2.567, 2.565, 2.562, 2.558, 2.552, 2.545, 2.535, 2.522, 2.505, 2.479, 2.46, 2.426, 2.38, 2.327, 2.268, 2.195, 2.123, 2.057, 1.99, 1.925, 1.859, 1.786, 1.727, 1.674, 1.614, 1.555, 1.502, 1.443, 1.39, 1.33, 1.271]
ti10_420_x = [10.50, 10.55, 10.60, 10.65, 10.70, 10.75, 10.80, 10.85, 10.90, 10.95, 11.00, 11.05, 11.10, 11.15, 11.20, 11.25, 11.30, 11.35, 11.40, 11.45, 11.50, 11.54, 11.577, 11.61, 11.645, 11.676, 11.72, 11.756, 11.783, 11.82, 11.85, 11.885, 11.918, 11.954, 11.98, 12.008, 12.045, 12.079, 12.115, 12.15, 12.187, 12.225, 12.259]
ti10_420_y = [2.574, 2.574, 2.573, 2.572, 2.571, 2.57, 2.568, 2.566, 2.563, 2.56, 2.556, 2.55, 2.543, 2.535, 2.525, 2.512, 2.497, 2.48, 2.458, 2.43, 2.39, 2.33, 2.275, 2.24, 2.20, 2.156, 2.08, 2.01, 1.944, 1.89, 1.84, 1.785, 1.733, 1.667, 1.635, 1.601, 1.535, 1.469, 1.42, 1.37, 1.324, 1.295, 1.271]
ti10_518_x = [10.50, 10.55, 10.60, 10.65, 10.70, 10.75, 10.80, 10.85, 10.90, 10.95, 11.00, 11.05, 11.11, 11.155, 11.20, 11.245, 11.29, 11.33, 11.371, 11.40, 11.433, 11.46, 11.487, 11.523, 11.568, 11.613, 11.649, 11.685, 11.703, 11.74, 11.783, 11.828, 11.846, 11.882, 11.905, 11.927, 11.972, 11.999, 12.035, 12.071, 12.115, 12.16, 12.205, 12.241]
ti10_518_y = [2.572, 2.572, 2.572, 2.571, 2.57, 2.569, 2.567, 2.565, 2.562, 2.558, 2.553, 2.547, 2.539, 2.53, 2.519, 2.506, 2.492, 2.474, 2.453, 2.433, 2.413, 2.39, 2.367, 2.321, 2.275, 2.208, 2.143, 2.065, 2.0, 1.995, 1.955, 1.878, 1.826, 1.773, 1.72, 1.667, 1.614, 1.548, 1.495, 1.443, 1.39, 1.337, 1.297, 1.271]
ti10_589_x = [10.50, 10.55, 10.60, 10.65, 10.70, 10.75, 10.80, 10.85, 10.90, 10.95, 11.00, 11.05, 11.10, 11.15, 11.20, 11.25, 11.30, 11.35, 11.398, 11.44, 11.48, 11.514, 11.55, 11.586, 11.631, 11.667, 11.70, 11.729, 11.775, 11.81, 11.84, 11.864, 11.891, 11.936, 11.954, 11.999, 12.035, 12.079, 12.115, 12.151, 12.187, 12.223, 12.259, 12.295]
ti10_589_y = [2.576, 2.576, 2.576, 2.575, 2.575, 2.574, 2.573, 2.571, 2.569, 2.566, 2.562, 2.557, 2.551, 2.543, 2.533, 2.52, 2.504, 2.486, 2.466, 2.44, 2.41, 2.374, 2.34, 2.307, 2.261, 2.215, 2.16, 2.109, 2.03, 1.971, 1.92, 1.865, 1.812, 1.766, 1.713, 1.661, 1.594, 1.541, 1.475, 1.422, 1.37, 1.317, 1.277, 1.258]

SERIES = [
    [(ti0_alansiz_x, ti0_alansiz_y), (ti0_37_x, ti0_37_y), (ti0_77_x, ti0_77_y), (ti0_150_x, ti0_150_y),
     (ti0_289_x, ti0_289_y), (ti0_420_x, ti0_420_y), (ti0_518_x, ti0_518_y), (ti0_589_x, ti0_589_y)],
    [(ti1_alansiz_x, ti1_alansiz_y), (ti1_37_x, ti1_37_y), (ti1_77_x, ti1_77_y), (ti1_150_x, ti1_150_y),
     (ti1_289_x, ti1_289_y), (ti1_420_x, ti1_420_y), (ti1_518_x, ti1_518_y), (ti1_589_x, ti1_589_y)],
    [(ti3_alansiz_x, ti3_alansiz_y), (ti3_37_x, ti3_37_y), (ti3_77_x, ti3_77_y), (ti3_150_x, ti3_150_y),
     (ti3_289_x, ti3_289_y), (ti3_420_x, ti3_420_y), (ti3_518_x, ti3_518_y), (ti3_589_x, ti3_589_y)],
    [(ti5_alansiz_x, ti5_alansiz_y), (ti5_37_x, ti5_37_y), (ti5_77_x, ti5_77_y), (ti5_150_x, ti5_150_y),
     (ti5_289_x, ti5_289_y), (ti5_420_x, ti5_420_y), (ti5_518_x, ti5_518_y), (ti5_589_x, ti5_589_y)],
    [(ti7_alansiz_x, ti7_alansiz_y), (ti7_37_x, ti7_37_y), (ti7_77_x, ti7_77_y), (ti7_150_x, ti7_150_y),
     (ti7_289_x, ti7_289_y), (ti7_420_x, ti7_420_y), (ti7_518_x, ti7_518_y), (ti7_589_x, ti7_589_y)],
    [(ti10_alansiz_x, ti10_alansiz_y), (ti10_37_x, ti10_37_y), (ti10_77_x, ti10_77_y), (ti10_150_x, ti10_150_y),
     (ti10_289_x, ti10_289_y), (ti10_420_x, ti10_420_y), (ti10_518_x, ti10_518_y), (ti10_589_x, ti10_589_y)],
]

# ---------------------------------------------------------------------------
# Styling
# ---------------------------------------------------------------------------
MARKERS = ["o", "s", "^", "v", "D", "h", "o", "s"]
FACE = ["#262626", "#f2392c", "#2fa33a", "#f7c52a", "#2c3c9c", "#e8407f", "#3fc1ee", "#d2d2d2"]
EDGE = ["#262626", "#f2392c", "#2fa33a", "#f7c52a", "#2c3c9c", "#e8407f", "#3fc1ee", "#8a8a8a"]
SIZE_SCALE = [1.0, 0.95, 1.05, 1.05, 0.85, 1.0, 1.0, 0.75]
TEXT_COLOR = "#1c1c1c"
AX_COLOR = "#4a4a4a"

W, H = 1158, 1562
plt.rcParams["font.family"] = ["Liberation Serif", "DejaVu Serif"]
plt.rcParams["mathtext.fontset"] = "stix"

fig = plt.figure(figsize=(W / 100, H / 100), dpi=100)
fig.patch.set_facecolor("white")

# faint diagonal watermark bands behind the middle row
WM_TOP, WM_BOT = 683, 1048
WM_BANDS = [
    ((67, 152), (397, 482)),
    ((200, 310), (530, 640)),
    ((441, 574), (111, 244)),
    ((600, 703), (270, 373)),
    ((577, 747), (907, 1077)),
    ((866, 981), (536, 651)),
]
for (t0, t1), (b0, b1) in WM_BANDS:
    pts = [(t0 / W, 1 - WM_TOP / H), (t1 / W, 1 - WM_TOP / H),
           (b1 / W, 1 - WM_BOT / H), (b0 / W, 1 - WM_BOT / H)]
    fig.add_artist(Polygon(pts, closed=True, transform=fig.transFigure,
                           facecolor="#fce5e8", edgecolor="none", zorder=-10))

# per-panel layout in pixel units: (left, top, right, bottom)
PANELS = [
    dict(rect=(121.7, 15, 518, 385), ms=9.5, tick_fs=18, ypad=11, xpad=13, lab_fs=20,
         ylab=(22, 200), xlab=(320, 465), title_xy=(305, 52), title_fs=16, title_w="normal",
         legends=[dict(idx=range(8), mx=365, row0=59, step=33.0, tx=420, fs=20)]),
    dict(rect=(708.3, 16, 1112, 394), ms=7, tick_fs=14, ypad=8, xpad=12, lab_fs=15.5,
         ylab=(630, 208), xlab=(912, 460), title_xy=(1049, 45), title_fs=12.5, title_w="normal",
         legends=[dict(idx=range(8), mx=990, row0=82, step=26.3, tx=1033, fs=15.5)]),
    dict(rect=(103.3, 553.3, 527, 923.3), ms=6.5, tick_fs=14, ypad=8, xpad=13, lab_fs=15.5,
         ylab=(30, 742), xlab=(318, 993), title_xy=(476, 571), title_fs=12.5, title_w="normal",
         legends=[dict(idx=range(8), mx=405, row0=599, step=28.3, tx=450, fs=15.5)]),
    dict(rect=(733, 546, 1117, 916), ms=9.5, tick_fs=22.5, ypad=10, xpad=17, lab_fs=22,
         ylab=(625, 735), xlab=(925, 1008), title_xy=(875, 575), title_fs=18, title_w="normal",
         legends=[dict(idx=range(0, 4), mx=970, row0=576, step=38.3, tx=1030, fs=21),
                  dict(idx=range(4, 8), mx=762, row0=786, step=34.3, tx=820, fs=21)]),
    dict(rect=(106, 1086.3, 533, 1468.3), ms=8, tick_fs=17, ypad=8, xpad=15, lab_fs=17.5,
         ylab=(18, 1282), xlab=(322, 1545), title_xy=(478, 1120), title_fs=14, title_w="bold",
         legends=[dict(idx=range(8), mx=158, row0=1219, step=31.3, tx=207, fs=17.5)]),
    dict(rect=(710, 1085, 1101, 1463.3), ms=8, tick_fs=17, ypad=9, xpad=15, lab_fs=17.5,
         ylab=(620, 1280), xlab=(905, 1540), title_xy=(892, 1107), title_fs=14.5, title_w="normal",
         legends=[dict(idx=range(8), mx=970, row0=1108, step=31.4, tx=1020, fs=17.5)]),
]


def px_to_fig(x, y):
    return x / W, 1 - y / H


def marker_kw(i, ms):
    return dict(linestyle="none", marker=MARKERS[i], markersize=ms * SIZE_SCALE[i],
                markerfacecolor=FACE[i], markeredgecolor=EDGE[i],
                markeredgewidth=0.8 if i == 7 else 0.5)


def add_legend(ax, rect, spec, ms):
    left, top, right, bottom = rect
    aw, ah = right - left, bottom - top
    fs = spec["fs"]
    em = fs * 100 / 72
    th = 0.91 * em
    idx = list(spec["idx"])
    handles = [Line2D([], [], **marker_kw(i, ms)) for i in idx]
    labels = [FIELDS[i] for i in idx]
    hl = 1.0
    htp = (spec["tx"] - spec["mx"] - 0.5 * hl * em) / em
    lsp = (spec["step"] - th) / em
    x0 = (spec["mx"] - 0.5 * hl * em - left) / aw
    y0 = 1 - (spec["row0"] - 0.5 * th - top) / ah
    leg = ax.legend(handles, labels, loc="upper left", bbox_to_anchor=(x0, y0),
                    frameon=False, borderpad=0, borderaxespad=0, handlelength=hl,
                    handletextpad=htp, labelspacing=lsp, numpoints=1,
                    prop={"size": fs, "family": ["Liberation Serif", "DejaVu Serif"]})
    for t in leg.get_texts():
        t.set_color(TEXT_COLOR)
    ax.add_artist(leg)


for p, (cfg, series) in enumerate(zip(PANELS, SERIES)):
    left, top, right, bottom = cfg["rect"]
    ax = fig.add_axes([left / W, 1 - bottom / H, (right - left) / W, (bottom - top) / H])
    ax.patch.set_alpha(0)

    for i, (xs, ys) in enumerate(series):
        ax.plot(xs, ys, clip_on=False, zorder=3 + i * 0.1, **marker_kw(i, cfg["ms"]))

    ax.set_xlim(10.5, 12.6)
    ax.set_ylim(1.25, 2.75)
    ax.set_xticks(X_TICKS)
    ax.set_yticks(Y_TICKS)
    ax.xaxis.set_minor_locator(MultipleLocator(0.05))
    ax.yaxis.set_minor_locator(MultipleLocator(0.0625))
    ax.xaxis.set_major_formatter(FormatStrFormatter("%.1f"))
    ax.yaxis.set_major_formatter(FormatStrFormatter("%.2f"))
    ax.tick_params(which="both", direction="in", top=False, right=False,
                   colors=AX_COLOR, labelcolor=TEXT_COLOR)
    ax.tick_params(which="major", length=8, width=1.0, labelsize=cfg["tick_fs"])
    ax.tick_params(which="minor", length=4, width=0.8)
    ax.tick_params(axis="y", which="major", pad=cfg["ypad"])
    ax.tick_params(axis="x", which="major", pad=cfg["xpad"])
    for s in ax.spines.values():
        s.set_color(AX_COLOR)
        s.set_linewidth(1.2)

    # axis titles
    fx, fy = px_to_fig(*cfg["ylab"])
    fig.text(fx, fy, "Log(L)", rotation=90, ha="center", va="center",
             fontsize=cfg["lab_fs"], color=TEXT_COLOR)
    fx, fy = px_to_fig(*cfg["xlab"])
    fig.text(fx, fy, r"1/T (10$^{-3}$ K$^{-1}$)", ha="center", va="center",
             fontsize=cfg["lab_fs"], color=TEXT_COLOR)

    # panel title
    fx, fy = px_to_fig(*cfg["title_xy"])
    fig.text(fx, fy, PANEL_TITLES[p], ha="center", va="center",
             fontsize=cfg["title_fs"], fontweight=cfg["title_w"], color=TEXT_COLOR)

    for spec in cfg["legends"]:
        add_legend(ax, cfg["rect"], spec, cfg["ms"])

fig.savefig("out.png", dpi=100, facecolor="white")
